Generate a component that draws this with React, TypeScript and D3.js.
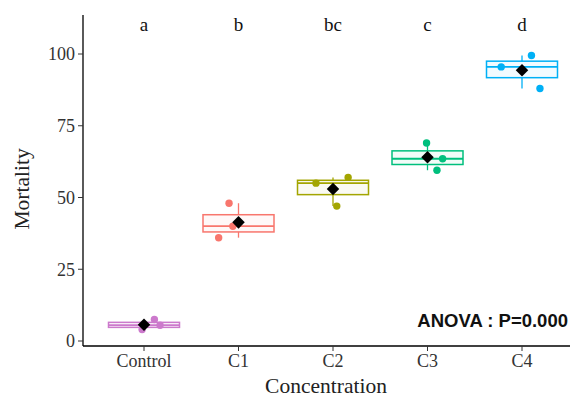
import React from 'react';
import * as d3 from 'd3';

const width = 570;
const height = 402;

// groups in axis order
const groups = ['Control', 'C1', 'C2', 'C3', 'C4'];
const colors = ['#CC79CC', '#F8766D', '#A3A500', '#00BF7D', '#00B0F6'];
const letters = ['a', 'b', 'bc', 'c', 'd'];

// three replicates per group (mortality, %)
const controlValues = [4, 5.5, 7.5];
const c1Values = [36, 40, 48];
const c2Values = [47, 55, 57];
const c3Values = [59.5, 63.5, 69];
const c4Values = [88, 95.5, 99.5];
const allValues = [controlValues, c1Values, c2Values, c3Values, c4Values];

// horizontal jitter of each replicate, in fractions of a category step
const controlJitter = [-0.02, 0.17, 0.11];
const c1Jitter = [-0.21, -0.06, -0.1];
const c2Jitter = [0.04, -0.18, 0.16];
const c3Jitter = [0.1, 0.16, -0.01];
const c4Jitter = [0.19, -0.22, 0.1];
const allJitter = [controlJitter, c1Jitter, c2Jitter, c3Jitter, c4Jitter];

const yTicks = [0, 25, 50, 75, 100];
const anovaLabel = 'ANOVA : P=0.000';

const axisLeft = 83;
const axisBottom = 346;
const axisTop = 15;

const serif = '"Liberation Serif", "DejaVu Serif", serif';

const App = () => {
  const x = d3.scalePoint<string>().domain(groups).range([144, 522]);
  const step = x.step();
  const y = d3.scaleLinear().domain([0, 100]).range([341, 54]);
  const boxW = 71;
  const diamond = d3.symbol().type(d3.symbolDiamond2).size(100)();

  const stats = allValues.map(v => {
    const s = [...v].sort(d3.ascending);
    return {
      q1: d3.quantile(s, 0.25) as number,
      med: d3.quantile(s, 0.5) as number,
      q3: d3.quantile(s, 0.75) as number,
      min: d3.min(s) as number,
      max: d3.max(s) as number,
      mean: d3.mean(s) as number,
    };
  });

  return (
    <svg width={width} height={height} style={{ position: 'absolute', left: 0, top: 0, background: '#fff' }}>
      {/* axes */}
      <line x1={axisLeft} x2={axisLeft} y1={axisTop} y2={axisBottom} stroke="#000" strokeWidth={1.3} />
      <line x1={axisLeft} x2={width} y1={axisBottom} y2={axisBottom} stroke="#000" strokeWidth={1.3} />

      {yTicks.map(t => (
        <g key={t} transform={`translate(0, ${y(t)})`}>
          <line x1={axisLeft - 5} x2={axisLeft} stroke="#333" strokeWidth={1} />
          <text x={axisLeft - 8} dy="0.35em" textAnchor="end" fontFamily={serif} fontSize={18} fill="#333">{t}</text>
        </g>
      ))}

      {groups.map(g => (
        <g key={g} transform={`translate(${x(g)}, 0)`}>
          <line y1={axisBottom} y2={axisBottom + 5} stroke="#333" strokeWidth={1} />
          <text y={axisBottom + 21} textAnchor="middle" fontFamily={serif} fontSize={18} fill="#333">{g}</text>
        </g>
      ))}

      <text x={326} y={393} textAnchor="middle" fontFamily={serif} fontSize={21.5} fill="#222">Concentration</text>
      <text transform={`translate(29, ${y(53)}) rotate(-90)`} textAnchor="middle" fontFamily={serif} fontSize={21.5} fill="#222">Mortality</text>

      {/* boxes, whiskers, points, means */}
      {groups.map((g, i) => {
        const cx = x(g) as number;
        const s = stats[i];
        const c = colors[i];
        return (
          <g key={g}>
            <line x1={cx} x2={cx} y1={y(s.max)} y2={y(s.q3)} stroke={c} strokeWidth={1.3} />
            <line x1={cx} x2={cx} y1={y(s.q1)} y2={y(s.min)} stroke={c} strokeWidth={1.3} />
            <rect x={cx - boxW / 2} y={y(s.q3)} width={boxW} height={y(s.q1) - y(s.q3)}
              fill={c} fillOpacity={0.05} stroke={c} strokeWidth={1.5} />
            <line x1={cx - boxW / 2} x2={cx + boxW / 2} y1={y(s.med)} y2={y(s.med)} stroke={c} strokeWidth={1.8} />
            {allValues[i].map((v, j) => (
              <circle key={j} cx={cx + allJitter[i][j] * step} cy={y(v)} r={3.7} fill={c} />
            ))}
            <path d={diamond as string} transform={`translate(${cx}, ${y(s.mean)})`} fill="#000" />
            <text x={cx} y={y(108)} textAnchor="middle" fontFamily={serif} fontSize={19} fill="#111">{letters[i]}</text>
          </g>
        );
      })}

      <text x={568} y={327} textAnchor="end" fontFamily='"Liberation Sans", Arial, sans-serif' fontWeight="bold" fontSize={18.5} fill="#111">{anovaLabel}</text>
    </svg>
  );
};

export default App;
